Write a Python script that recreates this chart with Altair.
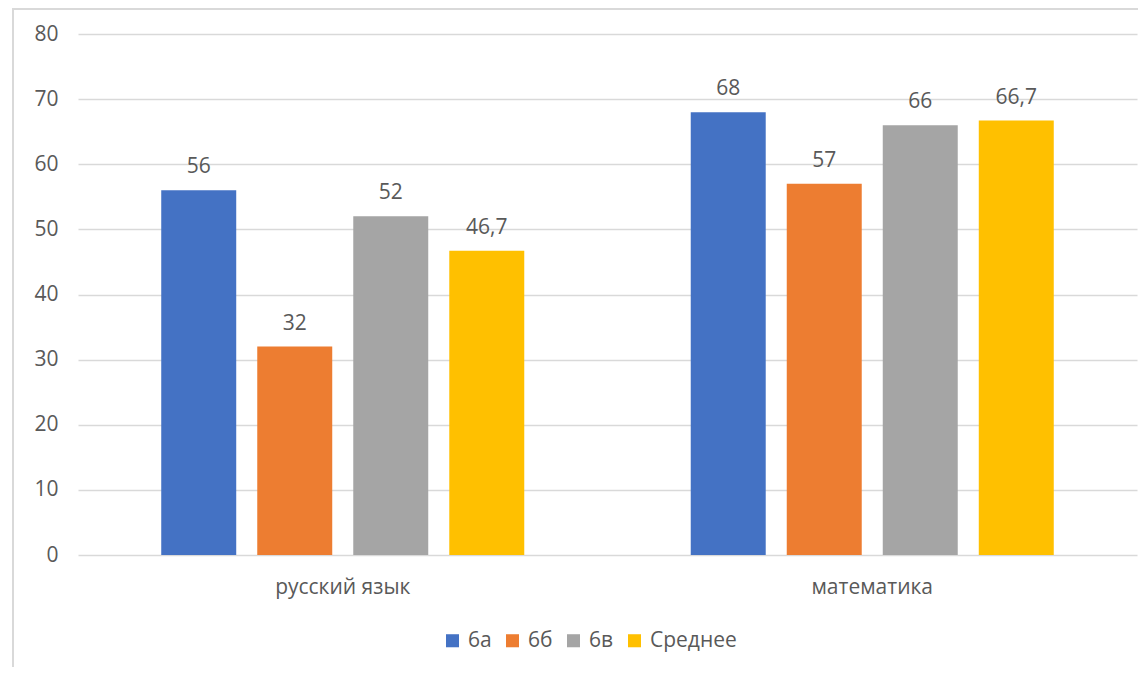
import altair as alt
import pandas as pd

subjects = ["русский язык", "математика"]
series = ["6а", "6б", "6в", "Среднее"]
values_rus = [56, 32, 52, 46.7]
values_math = [68, 57, 66, 66.7]
colors = ["#4472C4", "#ED7D31", "#A5A5A5", "#FFC000"]
y_ticks = [0, 10, 20, 30, 40, 50, 60, 70, 80]

rows = []
for subj, vals in zip(subjects, [values_rus, values_math]):
    for s, v in zip(series, vals):
        lab = (f"{v:g}").replace(".", ",")
        rows.append({"subject": subj, "series": s, "value": v, "label": lab})
df = pd.DataFrame(rows)

FONT = "Open Sans"
TXT = "#595959"
FS = 21

base = alt.Chart(df).encode(
    x=alt.X("subject:N", sort=subjects, title=None,
            scale=alt.Scale(paddingInner=0, paddingOuter=0),
            axis=alt.Axis(domain=False, ticks=False, labelAngle=0, labelPadding=21,
                          labelFontSize=FS, labelColor=TXT, labelFont=FONT)),
    xOffset=alt.XOffset("series:N", sort=series,
                        scale=alt.Scale(paddingInner=0.219, paddingOuter=0.867)),
)

bars = base.mark_bar().encode(
    y=alt.Y("value:Q", title=None,
            scale=alt.Scale(domain=[0, 80], nice=False),
            axis=alt.Axis(values=y_ticks, domain=False, ticks=False, labelPadding=20,
                          labelFontSize=FS, labelColor=TXT, labelFont=FONT,
                          gridColor="#D9D9D9", gridWidth=1.5)),
    color=alt.Color("series:N", sort=series,
                    scale=alt.Scale(domain=series, range=colors),
                    legend=alt.Legend(orient="none", legendX=364, legendY=596,
                                      direction="horizontal", title=None,
                                      symbolType="square", symbolSize=170,
                                      symbolStrokeWidth=0, labelFontSize=FS,
                                      labelColor=TXT, labelFont=FONT,
                                      columnPadding=10, labelOffset=5)),
)

text = base.mark_text(baseline="bottom", dy=-13, fontSize=FS, font=FONT, color=TXT).encode(
    y=alt.Y("value:Q"),
    text=alt.Text("label:N"),
)

frame = alt.Chart(pd.DataFrame({"a": [0]})).mark_rect(
    fill=None, stroke="#D9D9D9", strokeWidth=2
).encode(
    x=alt.value(-65), x2=alt.value(1300), y=alt.value(-25), y2=alt.value(900)
)

chart = alt.layer(frame, bars, text).properties(
    width=1059, height=521,
    autosize=alt.AutoSizeParams(type="none"),
    padding={"left": 70, "top": 26, "right": 1, "bottom": 112},
).configure_view(stroke=None)

chart.save("out.html", embed_options={"renderer": "svg", "actions": False})
